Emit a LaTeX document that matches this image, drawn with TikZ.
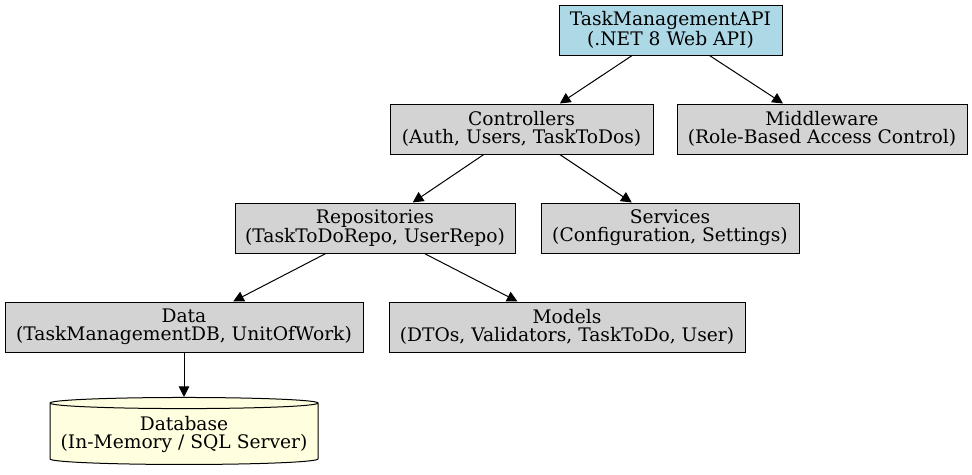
\documentclass[tikz,border=0pt]{standalone}
\usepackage{fontspec}
\setmainfont{DejaVu Serif}
\usetikzlibrary{shapes.geometric,arrows.meta}
\definecolor{toplayer}{RGB}{173,216,230}
\definecolor{layer}{RGB}{211,211,211}
\definecolor{store}{RGB}{255,255,224}
\tikzstyle{component} = [rectangle, minimum height=37.5pt, text centered, align=center, draw=black, fill=layer, line width=0.75pt, inner sep=0pt, font=\fontsize{14}{13.5}\selectfont]
\tikzstyle{entry} = [component, fill=toplayer]
\tikzstyle{database} = [cylinder, shape border rotate=90, aspect=0.045, minimum width=201pt, minimum height=50.25pt, text centered, align=center, draw=black, fill=store, line width=0.75pt, inner sep=0pt, font=\fontsize{14}{13.5}\selectfont]
\tikzstyle{arrow} = [line width=0.75pt, -{Triangle[length=8pt, width=8pt]}]

\begin{document}
\begin{tikzpicture}[x=0.75pt, y=-0.75pt]
	\useasboundingbox (0,0) rectangle (972,475);

	\node (api) [entry, minimum width=167.25pt] at (670.5,30) {TaskManagementAPI\\(.NET 8 Web API)};

	\node (ctrl) [component, minimum width=197.25pt] at (521.5,129) {Controllers\\(Auth, Users, TaskToDos)};
	\node (mid) [component, minimum width=217.5pt] at (822,129) {Middleware\\(Role-Based Access Control)};
	\node (repo) [component, minimum width=210pt] at (375,228) {Repositories\\(TaskToDoRepo, UserRepo)};
	\node (serv) [component, minimum width=193.5pt] at (670,228) {Services\\(Configuration, Settings)};
	\node (data) [component, minimum width=268.5pt] at (184,327) {Data\\(TaskManagementDB, UnitOfWork)};
	\node (models) [component, minimum width=267pt] at (567,327) {Models\\(DTOs, Validators, TaskToDo, User)};
	\node (db) [database] at (184,434) {Database\\(In-Memory / SQL Server)};

	\draw [arrow] (api) -- (ctrl);
	\draw [arrow] (api) -- (mid);
	\draw [arrow] (ctrl) -- (repo);
	\draw [arrow] (ctrl) -- (serv);
	\draw [arrow] (repo) -- (data);
	\draw [arrow] (repo) -- (models);
	\draw [arrow] (data) -- (db);
\end{tikzpicture}
\end{document}
